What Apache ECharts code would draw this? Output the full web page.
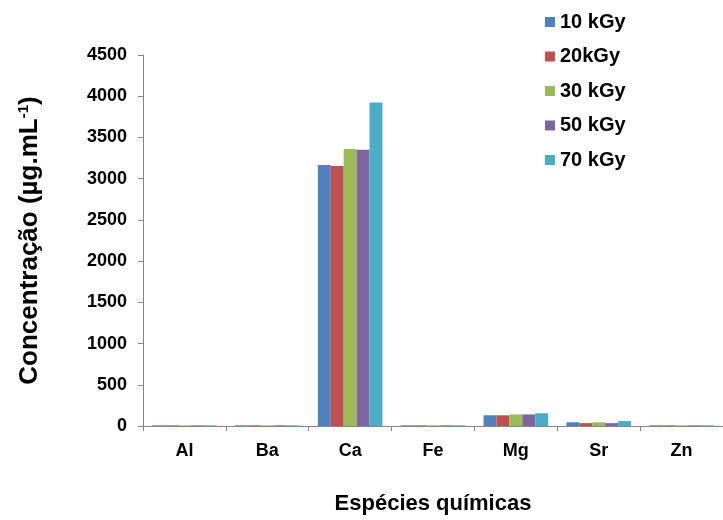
<!DOCTYPE html>
<html>
<head>
<meta charset="utf-8">
<script src="https://cdn.jsdelivr.net/npm/echarts@6/dist/echarts.min.js"></script>
<style>html,body{margin:0;padding:0;background:#fff}#c{width:723px;height:520px}</style>
</head>
<body>
<div id="c"></div>
<script>
const categories = ['Al', 'Ba', 'Ca', 'Fe', 'Mg', 'Sr', 'Zn'];
const seriesNames = ['10 kGy', '20kGy', '30 kGy', '50 kGy', '70 kGy'];
const s10 = [8, 8, 3165, 8, 130, 45, 8];
const s20 = [8, 8, 3155, 8, 130, 35, 8];
const s30 = [8, 8, 3360, 8, 140, 45, 8];
const s50 = [8, 8, 3350, 8, 140, 35, 8];
const s70 = [8, 8, 3925, 8, 155, 60, 8];
const yTicks = [0, 500, 1000, 1500, 2000, 2500, 3000, 3500, 4000, 4500];

const colors = ['#4F81BD', '#C0504D', '#9BBB59', '#8064A2', '#4BACC6'];
const allData = [s10, s20, s30, s50, s70];
const font = 'Liberation Sans, Arial, sans-serif';

const chart = echarts.init(document.getElementById('c'));
chart.setOption({
  animation: false,
  color: colors,
  legend: {
    orient: 'vertical',
    left: 540,
    top: 7,
    itemWidth: 10,
    itemHeight: 10,
    itemGap: 14.5,
    icon: 'rect',
    textStyle: { fontFamily: font, fontWeight: 'bold', fontSize: 20, color: '#000' },
    data: seriesNames
  },
  grid: { left: 143, right: -10, top: 55, bottom: 92, containLabel: false },
  xAxis: {
    type: 'category',
    data: categories,
    name: 'Espécies químicas',
    nameLocation: 'middle',
    nameGap: 67,
    nameTextStyle: { fontFamily: font, fontWeight: 'bold', fontSize: 22, color: '#000' },
    axisLine: { lineStyle: { color: '#868686', width: 1 } },
    axisTick: { show: true, length: 5, lineStyle: { color: '#868686' }, alignWithLabel: false },
    axisLabel: { fontFamily: font, fontWeight: 'bold', fontSize: 18, color: '#000', margin: 16 }
  },
  yAxis: {
    type: 'value',
    min: 0,
    max: 4500,
    interval: 500,
    name: '{a|Concentração (µg.mL}{s|-1}{a|)}',
    nameLocation: 'middle',
    nameGap: 100,
    nameTextStyle: {
      rich: {
        a: { fontFamily: font, fontWeight: 'bold', fontSize: 26, color: '#000' },
        s: { fontFamily: font, fontWeight: 'bold', fontSize: 15, color: '#000', verticalAlign: 'top', padding: [0, 0, 12, 0] }
      }
    },
    splitLine: { show: false },
    axisLine: { show: true, lineStyle: { color: '#868686', width: 1 } },
    axisTick: { show: true, length: 5, lineStyle: { color: '#868686' } },
    axisLabel: {
      fontFamily: font, fontWeight: 'bold', fontSize: 18, color: '#000', margin: 16,
      formatter: v => (yTicks.indexOf(v) >= 0 ? String(v) : '')
    }
  },
  series: seriesNames.map((n, i) => ({
    name: n,
    type: 'bar',
    data: allData[i],
    barGap: '0%',
    barCategoryGap: '22%',
    itemStyle: { color: colors[i] }
  }))
});
</script>
</body>
</html>
